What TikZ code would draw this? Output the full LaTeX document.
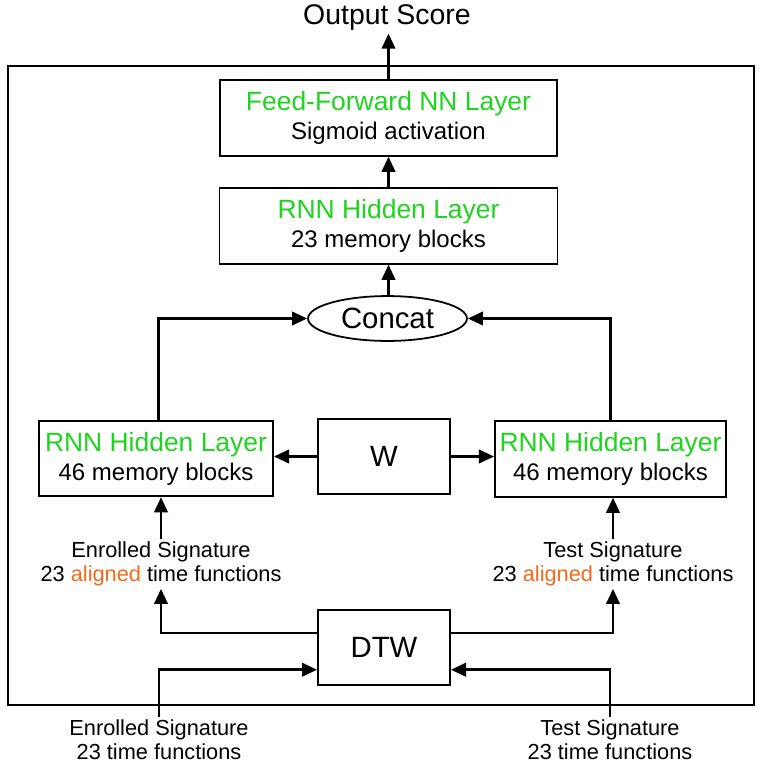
\documentclass[tikz,border=0pt]{standalone}
\usepackage{fontspec}
\setmainfont{Liberation Sans}
\usepackage{xcolor}
\usetikzlibrary{shapes.geometric, arrows.meta, positioning, calc}
\definecolor{cGreen}{HTML}{1ED41E}
\definecolor{cOrange}{HTML}{F26B1D}
\newcommand{\ltitle}[1]{{\color{cGreen}\fontsize{11.9}{13}\selectfont #1}}
\newcommand{\algn}{\textcolor{cOrange}{aligned}}
\tikzset{
  layerbox/.style={
    draw=black, line width=0.8pt,
    minimum width=#1, minimum height=34pt,
    font=\fontsize{10.8}{13}\selectfont, align=center, inner sep=0pt,
  },
  opbox/.style={
    draw=black, line width=0.8pt,
    minimum width=59.4pt, minimum height=34pt,
    font=\fontsize{13.2}{15}\selectfont, inner sep=0pt,
  },
  siglabel/.style={
    font=\fontsize{9.8}{10.8}\selectfont, align=center, inner sep=1pt,
  },
  arw/.style={-{Triangle[length=6.8pt, width=6pt]}, line width=1.25pt},
}
\begin{document}
\begin{tikzpicture}[x=0.45pt, y=-0.45pt]
  \useasboundingbox (0,0) rectangle (764,766);

  % outer frame
  \draw[line width=0.9pt] (8,66) rectangle (754,705);

  % output side
  \node[font=\fontsize{12.8}{15}\selectfont, inner sep=1pt] (out) at (387,18) {Output Score};

  \node[layerbox=151.7pt] (ff) at (388.5,118)
    {\ltitle{Feed-Forward NN Layer}\\ Sigmoid activation};
  \node[layerbox=152.1pt] (rnnTop) at (388.5,226)
    {\ltitle{RNN Hidden Layer}\\ 23 memory blocks};

  \node[draw=black, line width=0.8pt, ellipse, minimum width=71.5pt, minimum height=20.2pt,
        inner sep=0pt, font=\fontsize{13.2}{15}\selectfont]
    (concat) at (387.5,318.5) {Concat};

  % the two branches
  \node[layerbox=105.3pt] (rnnL) at (156,458.5)
    {\ltitle{RNN Hidden Layer}\\ 46 memory blocks};
  \node[opbox] (wbox) at (384,456.5) {W};
  \node[layerbox=104pt] (rnnR) at (610.5,459)
    {\ltitle{RNN Hidden Layer}\\ 46 memory blocks};

  \node[siglabel] (alL) at (161,564) {Enrolled Signature\\ 23 \algn{} time functions};
  \node[siglabel] (alR) at (613,564) {Test Signature\\ 23 \algn{} time functions};

  \node[opbox] (dtw) at (384,647.5) {DTW};

  % inputs
  \node[siglabel] (inL) at (159,740) {Enrolled Signature\\ 23 time functions};
  \node[siglabel] (inR) at (610,740) {Test Signature\\ 23 time functions};

  % connectors
  \draw[arw] (inL.north) |- ([yshift=-10pt]dtw.west);
  \draw[arw] (inR.north) |- ([yshift=-10pt]dtw.east);
  \draw[arw] ([yshift=6.5pt]dtw.west) -| (alL.south);
  \draw[arw] ([yshift=6.5pt]dtw.east) -| (alR.south);
  \draw[arw] (alL.north) -- (alL.north |- rnnL.south);
  \draw[arw] (alR.north) -- (alR.north |- rnnR.south);
  \draw[arw] (wbox.west) -- (rnnL.east |- wbox.west);
  \draw[arw] (wbox.east) -- (rnnR.west |- wbox.east);
  \draw[arw] ([xshift=1pt]rnnL.north) |- (concat.west);
  \draw[arw] (rnnR.north) |- (concat.east);
  \draw[arw] (concat.north -| rnnTop.south) -- (rnnTop.south);
  \draw[arw] (rnnTop.north) -- (ff.south);
  \draw[arw] (ff.north) -- (ff.north |- out.south);

\end{tikzpicture}
\end{document}
